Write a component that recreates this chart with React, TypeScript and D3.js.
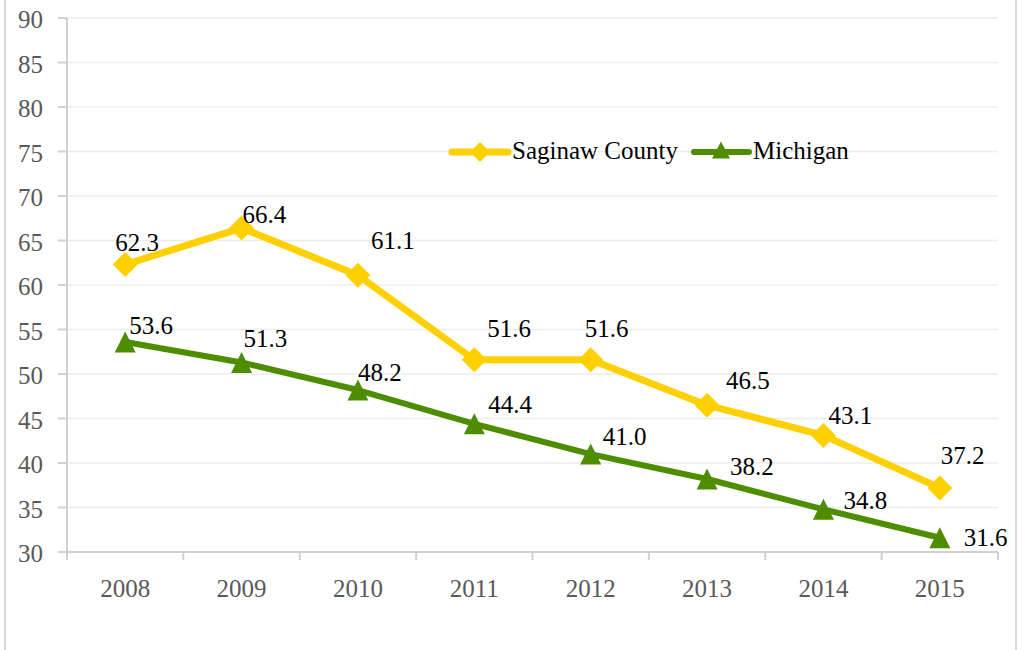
import React from "react";
import * as d3 from "d3";

const years = ["2008", "2009", "2010", "2011", "2012", "2013", "2014", "2015"];
const saginaw = [62.3, 66.4, 61.1, 51.6, 51.6, 46.5, 43.1, 37.2];
const michigan = [53.6, 51.3, 48.2, 44.4, 41.0, 38.2, 34.8, 31.6];
const yTicks = [30, 35, 40, 45, 50, 55, 60, 65, 70, 75, 80, 85, 90];

// label offsets (dx, dy) relative to point, as placed in the original
const saginawLabelOff: [number, number][] = [
  [-10, -14], [1, -5], [13, -26], [13, -23], [-6, -23], [19, -16], [5, -11], [1, -24],
];
const michiganLabelOff: [number, number][] = [
  [4, -8], [2, -15], [0, -9], [14, -11], [12, -9], [23, -4], [20, 0], [24, 8],
];

const W = 1022;
const H = 650;
const left = 67;
const right = 998;
const top = 18;
const bottom = 552;

const YELLOW = "#FFD000";
const GREEN = "#4E8C00";
const FONT = "'Liberation Serif', 'Times New Roman', Tinos, 'DejaVu Serif', serif";
const FS = 25;

export default function App() {
  const x = d3.scaleBand<string>().domain(years).range([left, right]);
  const y = d3.scaleLinear().domain([30, 90]).range([bottom, top]);
  const cx = (i: number) => (x(years[i]) as number) + x.bandwidth() / 2;

  const line = d3
    .line<number>()
    .x((_, i) => cx(i))
    .y((d) => y(d));

  const diamond = (px: number, py: number, r = 12.5) =>
    `M${px},${py - r}L${px + r},${py}L${px},${py + r}L${px - r},${py}Z`;
  const triangle = (px: number, py: number, w = 21, h = 21) =>
    `M${px},${py - h / 2}L${px + w / 2},${py + h / 2}L${px - w / 2},${py + h / 2}Z`;

  const boundaries = d3.range(years.length + 1).map((i) => left + i * x.bandwidth());
  const ts: React.CSSProperties = { fontFamily: FONT, fontSize: FS };

  return (
    <svg
      width={W}
      height={H}
      style={{ position: "absolute", left: 0, top: 0, background: "#fff", fontFamily: FONT }}
    >
      <rect x={0} y={0} width={W} height={H} fill="#fff" />
      {/* frame */}
      <line x1={5} x2={5} y1={0} y2={H} stroke="#d9d9d9" strokeWidth={2} />
      <line x1={1016} x2={1016} y1={0} y2={H} stroke="#d9d9d9" strokeWidth={2} />

      {/* gridlines */}
      {yTicks.slice(1).map((t) => (
        <line key={t} x1={left} x2={right} y1={y(t)} y2={y(t)} stroke="#ececec" strokeWidth={1.5} />
      ))}

      {/* y axis */}
      <line x1={left} x2={left} y1={top} y2={bottom} stroke="#d0d0d0" strokeWidth={2} />
      {yTicks.map((t) => (
        <g key={t}>
          <line x1={58} x2={left} y1={y(t)} y2={y(t)} stroke="#d0d0d0" strokeWidth={2} />
          <text x={43} y={y(t) + 10} textAnchor="end" style={ts} fill="#595959">
            {t}
          </text>
        </g>
      ))}

      {/* x axis */}
      <line x1={left} x2={right} y1={bottom} y2={bottom} stroke="#d0d0d0" strokeWidth={2} />
      {boundaries.map((bx, i) => (
        <line key={i} x1={bx} x2={bx} y1={bottom} y2={560} stroke="#d0d0d0" strokeWidth={2} />
      ))}
      {years.map((yr, i) => (
        <text key={yr} x={cx(i)} y={597} textAnchor="middle" style={ts} fill="#595959">
          {yr}
        </text>
      ))}

      {/* Michigan */}
      <path d={line(michigan) || ""} fill="none" stroke={GREEN} strokeWidth={6} strokeLinejoin="round" />
      {michigan.map((v, i) => (
        <path key={i} d={triangle(cx(i), y(v))} fill={GREEN} />
      ))}

      {/* Saginaw */}
      <path d={line(saginaw) || ""} fill="none" stroke={YELLOW} strokeWidth={7} strokeLinejoin="round" />
      {saginaw.map((v, i) => (
        <path key={i} d={diamond(cx(i), y(v))} fill={YELLOW} />
      ))}

      {/* data labels */}
      {saginaw.map((v, i) => (
        <text
          key={"s" + i}
          x={cx(i) + saginawLabelOff[i][0]}
          y={y(v) + saginawLabelOff[i][1]}
          style={ts}
          fill="#000"
        >
          {v.toFixed(1)}
        </text>
      ))}
      {michigan.map((v, i) => (
        <text
          key={"m" + i}
          x={cx(i) + michiganLabelOff[i][0]}
          y={y(v) + michiganLabelOff[i][1]}
          style={ts}
          fill="#000"
        >
          {v.toFixed(1)}
        </text>
      ))}

      {/* legend */}
      <line x1={452} x2={508} y1={152} y2={152} stroke={YELLOW} strokeWidth={7} strokeLinecap="round" />
      <path d={diamond(480, 152, 10)} fill={YELLOW} />
      <text x={512} y={159} style={ts} fill="#000">
        Saginaw County
      </text>
      <line x1={694} x2={749} y1={152} y2={152} stroke={GREEN} strokeWidth={6} strokeLinecap="round" />
      <path d={triangle(721, 150, 18, 17)} fill={GREEN} />
      <text x={753} y={159} style={ts} fill="#000">
        Michigan
      </text>
    </svg>
  );
}
